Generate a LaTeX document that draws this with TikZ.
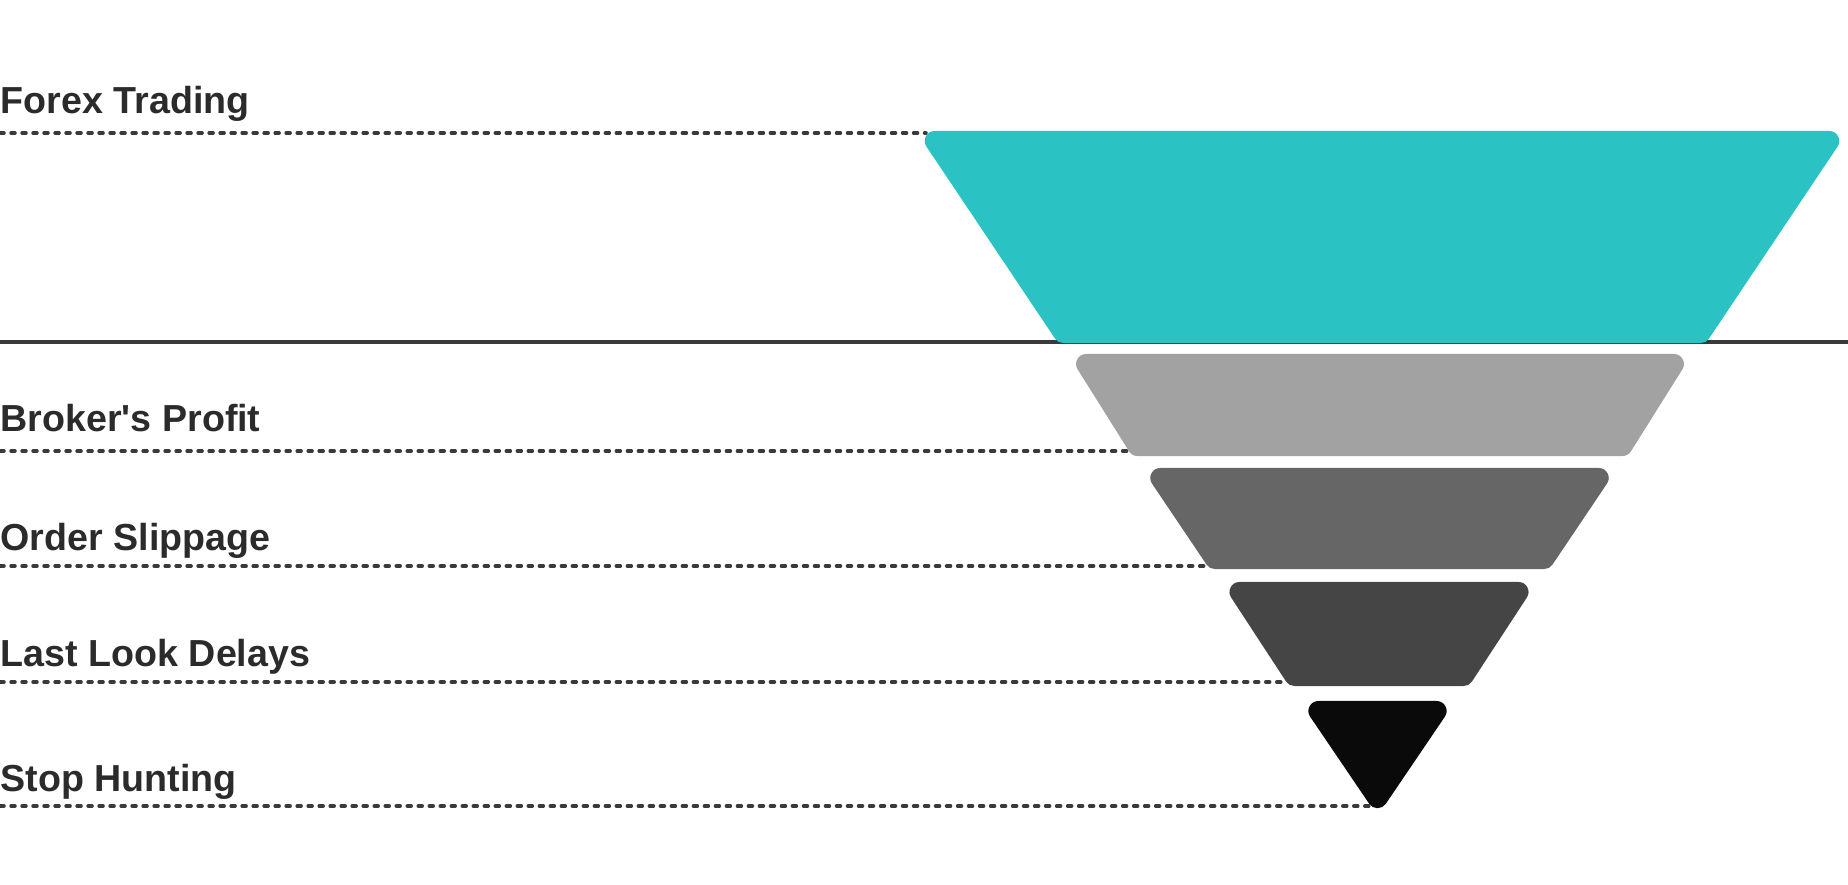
\documentclass[tikz,border=0pt]{standalone}
\usepackage{fontspec}
\newfontfamily\lblfont{Liberation Sans}
\definecolor{tealtier}{HTML}{2AC2C3}
\definecolor{greytier}{HTML}{A2A2A2}
\definecolor{midtier}{HTML}{666666}
\definecolor{darktier}{HTML}{454545}
\definecolor{blacktier}{HTML}{0A0A0A}
\definecolor{ink}{HTML}{2B2B2B}
\definecolor{rulegrey}{HTML}{3A3A3A}
\begin{document}
\begin{tikzpicture}[
  x=0.01cm, y=-0.01cm,
  lbl/.style={anchor=base west,inner sep=0pt,text=ink,font=\lblfont\fontsize{10.7}{12}\selectfont\bfseries},
  guide/.style={draw=rulegrey,line width=0.035cm,dash pattern=on 0.04cm off 0.07cm,line cap=round},
  tier/.style={line width=0.2cm,line join=round}
]
\useasboundingbox (0,0) rectangle (1848,885);
% labels
\node[lbl] (forex) at (0,114) {Forex Trading};
\node[lbl] (broker) at (0,431) {Broker's Profit};
\node[lbl] (slip) at (0,550) {Order Slippage};
\node[lbl] (look) at (0,666) {Last Look Delays};
\node[lbl] (stop) at (0,791) {Stop Hunting};
% guide ends
\coordinate (forex-l) at (0,133);  \coordinate (forex-r) at (926,133);
\coordinate (broker-l) at (0,451); \coordinate (broker-r) at (1129,451);
\coordinate (slip-l) at (0,566);   \coordinate (slip-r) at (1208,566);
\coordinate (look-l) at (0,682);   \coordinate (look-r) at (1287,682);
\coordinate (stop-l) at (0,806);   \coordinate (stop-r) at (1372,806);
\coordinate (sep-l) at (0,342);    \coordinate (sep-r) at (1848,342);
\draw[guide] (forex-l) -- (forex-r);
\draw[guide] (broker-l) -- (broker-r);
\draw[guide] (slip-l) -- (slip-r);
\draw[guide] (look-l) -- (look-r);
\draw[guide] (stop-l) -- (stop-r);
\draw[rulegrey,line width=0.03cm] (sep-l) -- (sep-r);
% funnel tiers: top y / bottom y / top half width / bottom half width / centre x
\foreach \T/\B/\W/\w/\cx/\col in {131/343/466/324/1382/tealtier, 354/456/312/248/1380/greytier,
    468/569/238/170/1379.5/midtier, 582/686/158/90/1379/darktier, 701/816/78/0/1377.5/blacktier}{
  \pgfmathsetmacro\slope{(\W-\w)/(\B-\T)}
  \pgfmathsetmacro\slen{sqrt(1+\slope*\slope)}
  \pgfmathsetmacro\ytop{\T+10}
  \pgfmathsetmacro\htop{\W-10*\slope-10*\slen}
  \pgfmathsetmacro\ybot{min(\B-10,\T+(\W-10*\slen)/\slope)}
  \pgfmathsetmacro\hbot{max(0,\W-\slope*(\ybot-\T)-10*\slen)}
  \filldraw[tier,\col] (\cx-\htop,\ytop) -- (\cx+\htop,\ytop)
    -- (\cx+\hbot,\ybot) -- (\cx-\hbot,\ybot) -- cycle;
}
\end{tikzpicture}
\end{document}
